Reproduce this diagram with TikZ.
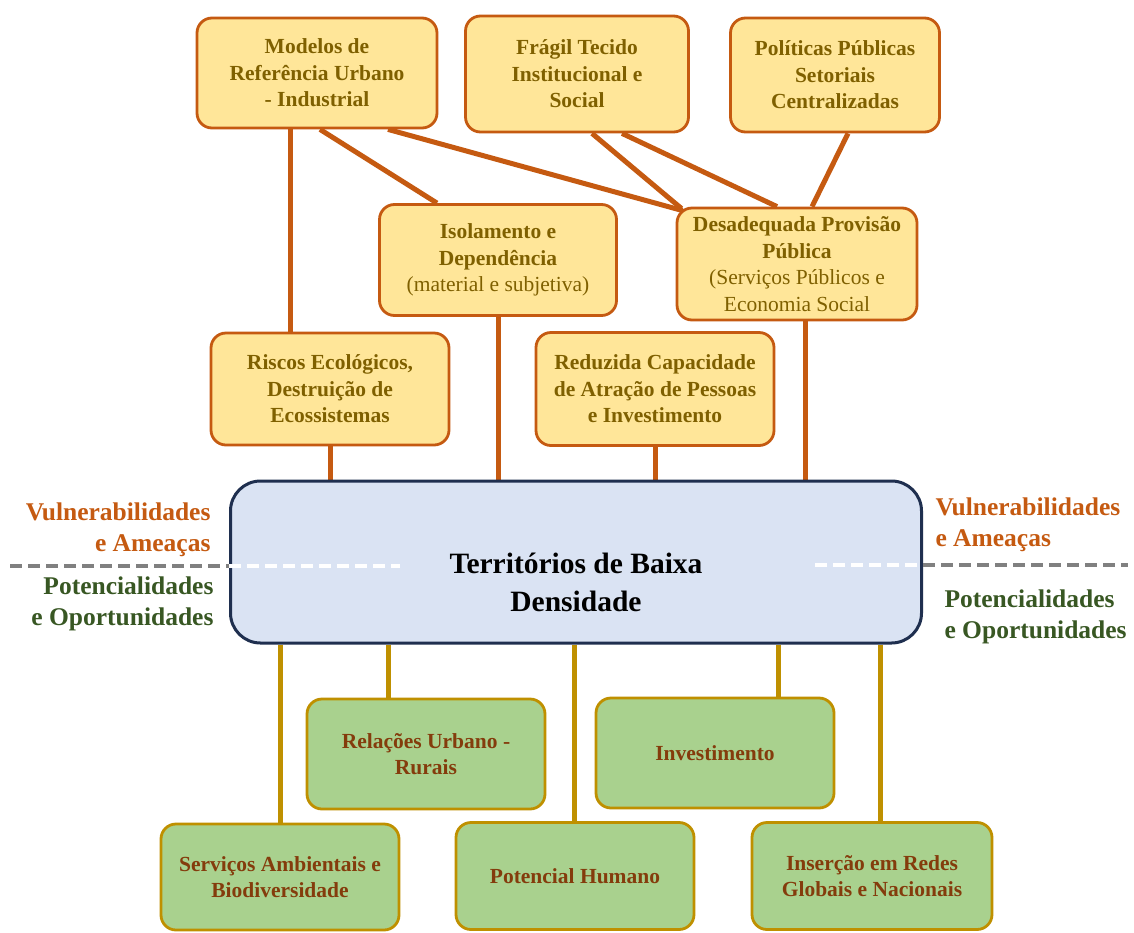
\documentclass[tikz,border=0pt]{standalone}
\usepackage{fontspec}
\setmainfont{Liberation Serif}
\usetikzlibrary{backgrounds}
\definecolor{yfill}{HTML}{FFE699}
\definecolor{ybord}{HTML}{C55A11}
\definecolor{ytext}{HTML}{7F6000}
\definecolor{gfill}{HTML}{A9D18E}
\definecolor{gbord}{HTML}{BF9000}
\definecolor{gtext}{HTML}{843C0C}
\definecolor{cfill}{HTML}{DAE3F3}
\definecolor{cbord}{HTML}{1F2F4F}
\definecolor{lorange}{HTML}{C55A11}
\definecolor{lgreen}{HTML}{385723}
\definecolor{dgray}{HTML}{808080}
\begin{document}
\begin{tikzpicture}[x=1pt,y=-1pt,
  ybox/.style={draw=ybord, fill=yfill, line width=2.8pt, rounded corners=15pt,
    align=flush center, text=ytext, inner sep=4pt,
    font=\bfseries\fontsize{21.5}{26.5}\selectfont},
  gbox/.style={draw=gbord, fill=gfill, line width=2.8pt, rounded corners=15pt,
    align=flush center, text=gtext, inner sep=4pt, minimum width=238pt,
    font=\bfseries\fontsize{21.5}{26.5}\selectfont},
  cbox/.style={draw=cbord, fill=cfill, line width=3pt, rounded corners=30pt},
  ctext/.style={align=center, text=black, font=\bfseries\fontsize{29.5}{38}\selectfont},
  lab/.style={font=\bfseries\fontsize{25.5}{31}\selectfont},
  oline/.style={draw=ybord, line width=5pt},
  gline/.style={draw=gbord, line width=5pt},
  dline/.style={draw=dgray, line width=3.5pt, dash pattern=on 12pt off 6pt},
  wline/.style={draw=white, line width=3.5pt, dash pattern=on 12pt off 6pt}
]
\useasboundingbox (0,0) rectangle (1134,932);

% yellow boxes
\node[ybox, minimum width=240pt, minimum height=110pt, text width=230pt] (mod) at (317,73) {Modelos de\\Referência Urbano\\- Industrial};
\node[ybox, minimum width=223pt, minimum height=116pt, text width=214pt] (fra) at (577,74) {Frágil Tecido\\Institucional e\\Social};
\node[ybox, minimum width=209pt, minimum height=114pt, text width=200pt] (pol) at (835,75) {Políticas Públicas\\Setoriais\\Centralizadas};
\node[ybox, minimum width=237pt, minimum height=111pt, text width=228pt] (iso) at (498,260) {Isolamento e\\Dependência\\{\mdseries (material e subjetiva)}};
\node[ybox, minimum width=238pt, minimum height=112pt, text width=232pt] (des) at (797,264) {Desadequada Provisão\\Pública\\{\mdseries (Serviços Públicos e}\\{\mdseries Economia Social}};
\node[ybox, minimum width=238pt, minimum height=112pt, text width=228pt] (ris) at (330,389) {Riscos Ecológicos,\\Destruição de\\Ecossistemas};
\node[ybox, minimum width=237pt, minimum height=113pt, text width=230pt] (red) at (655,389) {Reduzida Capacidade\\de Atração de Pessoas\\e Investimento};

% central
\node[cbox, minimum width=691pt, minimum height=162pt] (cen) at (576,562) {};
\node[ctext] (cent) at ([yshift=-20pt]cen.center) {Territórios de Baixa\\Densidade};

% dashed separators
\draw[dline] (10,566) -- (cen.west |- 0,566);
\draw[wline] (cen.west |- 0,566) -- (400,566);
\draw[wline] (815,565) -- (cen.east |- 0,565);
\draw[dline] (cen.east |- 0,565) -- (1128,565);

% labels
\node[lab, text=lorange, anchor=east, align=right] (vl) at (214,530) {Vulnerabilidades\\e Ameaças};
\node[lab, text=lgreen, anchor=east, align=right] (pl) at (217,604) {Potencialidades\\e Oportunidades};
\node[lab, text=lorange, anchor=west, align=left] (vr) at (932,525) {Vulnerabilidades\\e Ameaças};
\node[lab, text=lgreen, anchor=west, align=left] (pr) at (941,617) {Potencialidades\\e Oportunidades};

% green boxes
\node[gbox, minimum height=110pt, text width=230pt] (rel) at (426,754) {Relações Urbano -\\Rurais};
\node[gbox, minimum height=110pt, text width=230pt] (inv) at (715,753) {Investimento};
\node[gbox, minimum height=106pt, text width=230pt] (ser) at (280,877) {Serviços Ambientais e\\Biodiversidade};
\node[gbox, minimum height=107pt, text width=230pt] (pot) at (575,876) {Potencial Humano};
\node[gbox, minimum width=240pt, minimum height=107pt, text width=230pt] (ins) at (872,876) {Inserção em Redes\\Globais e Nacionais};

\coordinate (m1) at ([xshift=-27pt]mod.south);
\coordinate (r1) at ([xshift=-38pt]rel.north);
\coordinate (p1) at ([xshift=-1pt]pot.north);
\coordinate (i1) at ([xshift=63pt]inv.north);
\coordinate (n1) at ([xshift=8pt]ins.north);
\coordinate (d1) at ([xshift=8pt]des.south);

\begin{scope}[on background layer]
\fill[white] (0,0) rectangle (1134,932);
\draw[oline] (m1) -- (m1 |- ris.north);
\draw[oline] ([xshift=3pt]mod.south) -- ([xshift=-61pt]iso.north);
\draw[oline] ([xshift=71pt]mod.south) -- ([shift={(7pt,-4pt)}]des.north west);
\draw[oline] ([xshift=15pt]fra.south) -- ([shift={(6pt,-2pt)}]des.north west);
\draw[oline] ([xshift=45pt]fra.south) -- ([xshift=-20pt]des.north);
\draw[oline] ([xshift=13pt]pol.south) -- ([xshift=15pt]des.north);
\draw[oline] (ris.south) -- (ris.south |- cen.north);
\draw[oline] (iso.south) -- (iso.south |- cen.north);
\draw[oline] (red.south) -- (red.south |- cen.north);
\draw[oline] (d1) -- (d1 |- cen.north);
\draw[gline] (ser.north |- cen.south) -- (ser.north);
\draw[gline] (r1 |- cen.south) -- (r1);
\draw[gline] (p1 |- cen.south) -- (p1);
\draw[gline] (i1 |- cen.south) -- (i1);
\draw[gline] (n1 |- cen.south) -- (n1);
\end{scope}
\end{tikzpicture}
\end{document}
